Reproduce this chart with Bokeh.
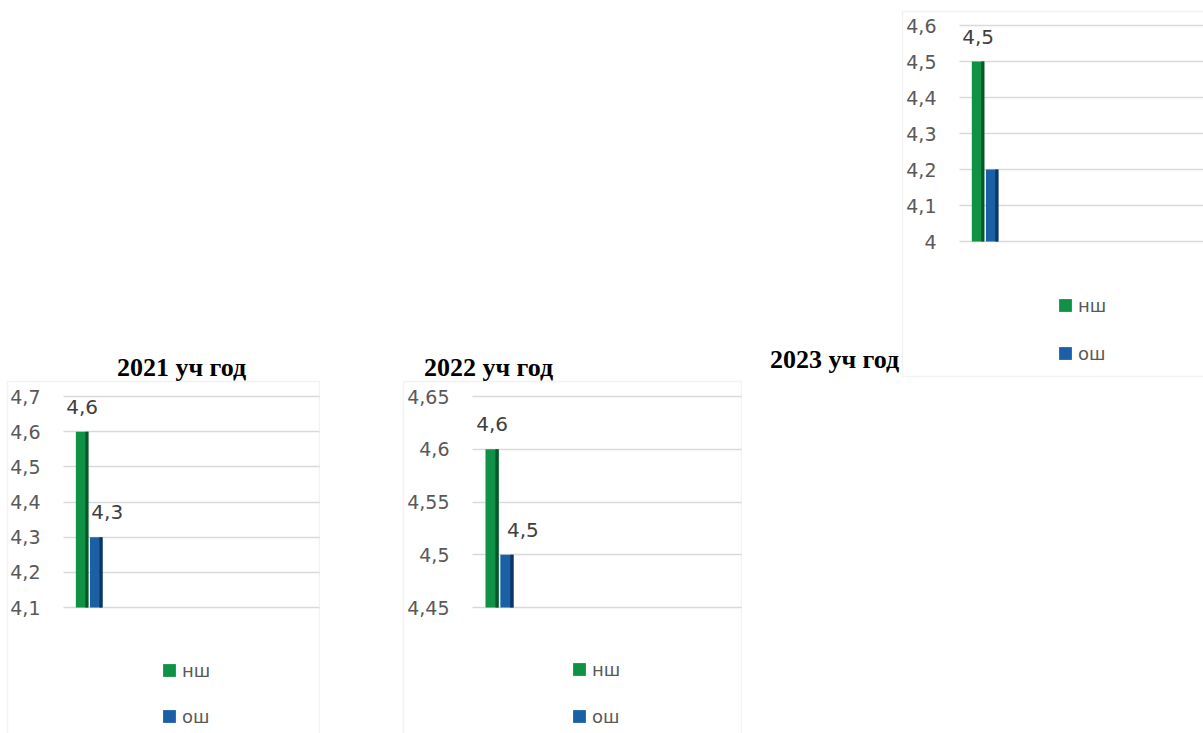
from bokeh.plotting import figure
from bokeh.models import (Range1d, FixedTicker, CustomJSTickFormatter, BoxAnnotation, Label,
                          Legend, LegendItem, ColumnDataSource)
from bokeh.layouts import row
from bokeh.embed import file_html
from bokeh.resources import INLINE
from bokeh.core.properties import value

# ---------------- data ----------------
series = ["нш", "ош"]
titles = ["2021 уч год", "2022 уч год", "2023 уч год"]
values_2021 = [4.6, 4.3]
values_2022 = [4.6, 4.5]
values_2023 = [4.5, 4.2]
ticks_2021 = [4.1, 4.2, 4.3, 4.4, 4.5, 4.6, 4.7]
ticks_2022 = [4.45, 4.5, 4.55, 4.6, 4.65]
ticks_2023 = [4.0, 4.1, 4.2, 4.3, 4.4, 4.5, 4.6]
labels_2021 = ["4,6", "4,3"]
labels_2022 = ["4,6", "4,5"]
labels_2023 = ["4,5", ""]
n_categories = 5          # category slots on the x axis, only the first one is filled
filled_category = 0

# ---------------- styles / layout ----------------
FILL = ["#0f9146", "#1b5fa6"]
DARK = ["#0a5529", "#0d3560"]
GRID = "#d9d9d9"
TXT = "#595959"
LBL = "#404040"
FONT = "DejaVu Sans"
H = 733
ITEM_H = 21

layouts = [
    dict(canvas=(0, 320), box=(7, 319, 381, 760), plot=(63, 319), hi=396, lo=607,
         title=(181, 367), legend=(162, 670, 716), label_dx=11),
    dict(canvas=(320, 742), box=(403, 741, 381, 760), plot=(472, 741), hi=396, lo=607,
         title=(488, 367), legend=(572, 669, 716), label_dx=16),
    dict(canvas=(742, 1203), box=(902, 1230, 11, 376), plot=(959, 1214), hi=25, lo=241,
         title=(834, 359), legend=(1058, 305, 353), label_dx=12),
]

OFFSETS = [-0.136, 0.14]
BAR_W = 0.245
STRIP_W = 0.06


def make_chart(vals, ticks, labels, title, g):
    cl, cr = g["canvas"]
    bl, br, bt, bb = g["box"]
    pl, pr = g["plot"]
    kx = n_categories / (pr - pl)

    def vx(px):
        return -0.5 + (px - pl) * kx

    ky = (ticks[-1] - ticks[0]) / (g["lo"] - g["hi"])

    def vy(py):
        return ticks[0] + (g["lo"] - py) * ky

    p = figure(width=cr - cl, height=H,
               x_range=Range1d(vx(cl), vx(cr)), y_range=Range1d(vy(H), vy(0)),
               output_backend="svg", toolbar_location=None,
               x_axis_location=None, y_axis_location="left",
               min_border_left=0, min_border_right=0, min_border_top=0, min_border_bottom=0)
    p.title.visible = False
    p.outline_line_color = None
    p.xgrid.visible = False

    ticker = FixedTicker(ticks=ticks)
    ax = p.yaxis[0]
    ax.fixed_location = filled_category - 0.5
    ax.ticker = ticker
    ax.formatter = CustomJSTickFormatter(
        code="return String(parseFloat(tick.toFixed(2))).replace('.', ',');")
    ax.axis_line_color = None
    ax.major_tick_line_color = None
    ax.minor_tick_line_color = None
    ax.major_tick_out = 0
    ax.major_tick_in = 0
    ax.minor_tick_out = 0
    ax.minor_tick_in = 0
    ax.major_label_standoff = 23
    ax.major_label_text_font = FONT
    ax.major_label_text_font_size = "19px"
    ax.major_label_text_color = TXT

    grid = p.ygrid[0]
    grid.ticker = ticker
    grid.grid_line_color = GRID
    grid.grid_line_width = 1.5
    try:
        grid.cross_bounds = (filled_category - 0.5, vx(pr))
    except Exception:
        pass

    # chart-area border
    p.add_layout(BoxAnnotation(left=vx(bl), right=vx(br), top=vy(bt), bottom=vy(bb),
                               fill_alpha=0, line_color="#d4d4d4", line_width=1.5,
                               level="underlay"))

    xpos = [filled_category + o for o in OFFSETS]
    src = ColumnDataSource(dict(
        x=xpos,
        xs=[x + BAR_W / 2 - STRIP_W / 2 for x in xpos],
        top=vals,
        bottom=[ticks[0]] * len(vals),
        fill=FILL, dark=DARK,
        label=labels,
        dx=[0, g["label_dx"]],
    ))
    r = p.vbar(x="x", width=BAR_W, top="top", bottom="bottom", fill_color="fill",
               line_color=None, source=src)
    p.vbar(x="xs", width=STRIP_W, top="top", bottom="bottom", fill_color="dark",
           line_color=None, source=src)
    p.text(x="x", y="top", text="label", x_offset="dx", y_offset=-25,
           text_align="center", text_baseline="middle",
           text_font=value(FONT), text_font_size="20px", text_color=LBL, source=src)

    lx, i1, i2 = g["legend"]
    legend = Legend(
        items=[LegendItem(label=series[i], renderers=[r], index=i) for i in range(len(series))],
        location=(lx - cl - 1, H - (i2 + ITEM_H / 2)),
        orientation="vertical", spacing=int(round(i2 - i1 - ITEM_H)),
        padding=0, margin=0, glyph_width=16, glyph_height=16, label_height=ITEM_H,
        label_standoff=5, label_text_font=FONT, label_text_font_size="18px",
        label_text_color=TXT, border_line_color=None, background_fill_alpha=0)
    p.add_layout(legend)

    tx, ty = g["title"]
    p.add_layout(Label(x=vx(tx), y=vy(ty), text=title, text_align="center",
                       text_baseline="middle", text_font="Liberation Serif",
                       text_font_style="bold", text_font_size="26px", text_color="black"))
    return p


p1 = make_chart(values_2021, ticks_2021, labels_2021, titles[0], layouts[0])
p2 = make_chart(values_2022, ticks_2022, labels_2022, titles[1], layouts[1])
p3 = make_chart(values_2023, ticks_2023, labels_2023, titles[2], layouts[2])

page = row(p1, p2, p3)
open("out.html", "w").write(file_html(page, INLINE))
